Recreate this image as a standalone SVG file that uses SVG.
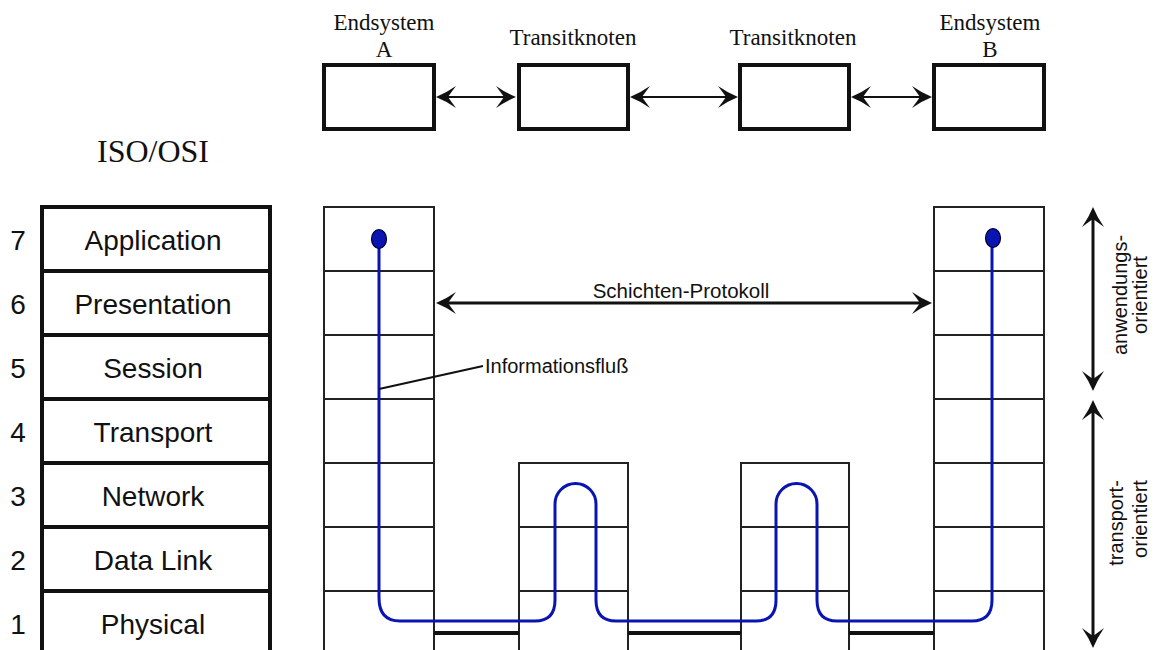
<svg xmlns="http://www.w3.org/2000/svg" width="1157" height="650" viewBox="0 0 1157 650">
<style>
.serif{font-family:"Liberation Serif","Times New Roman",serif;fill:#111}
.sans{font-family:"Liberation Sans",Arial,sans-serif;fill:#111}
.top{font-size:23px;text-anchor:middle}
.layer{font-size:28px;text-anchor:middle}
.num{font-size:28px;text-anchor:middle}
.tbl{fill:#fff;stroke:#111;stroke-width:4}
.tbline{stroke:#111;stroke-width:4}
.topbox{fill:#fff;stroke:#111;stroke-width:4}
.stack{fill:#fff;stroke:#222;stroke-width:2}
.sline{stroke:#222;stroke-width:2}
.conn{stroke:#111;stroke-width:2;fill:none}
.thick{stroke:#111;stroke-width:3;fill:none}
.base{stroke:#111;stroke-width:4}
.flow{stroke:#0a14b0;stroke-width:3;fill:none}
</style>
<defs>
<marker id="ah" markerUnits="userSpaceOnUse" orient="auto-start-reverse" refX="0" refY="0" markerWidth="30" markerHeight="30" overflow="visible">
<path d="M8,0 Q-2,-4 -12,-11 Q-6,-3 -4,0 Q-6,3 -12,11 Q-2,4 8,0 Z" fill="#111"/>
</marker>
</defs>

<g id="label-iso-osi">
<text class="serif" x="153" y="162" font-size="32" text-anchor="middle">ISO/OSI</text>
</g>

<g id="osi-table">
<rect class="tbl" x="42" y="207" width="228" height="460"/>
<line class="tbline" x1="42" y1="271" x2="270" y2="271"/>
<line class="tbline" x1="42" y1="335" x2="270" y2="335"/>
<line class="tbline" x1="42" y1="399" x2="270" y2="399"/>
<line class="tbline" x1="42" y1="463" x2="270" y2="463"/>
<line class="tbline" x1="42" y1="527" x2="270" y2="527"/>
<line class="tbline" x1="42" y1="591" x2="270" y2="591"/>
</g>
<g id="layer-7"><text class="sans num" x="18" y="250">7</text><text class="sans layer" x="153" y="250">Application</text></g>
<g id="layer-6"><text class="sans num" x="18" y="314">6</text><text class="sans layer" x="153" y="314">Presentation</text></g>
<g id="layer-5"><text class="sans num" x="18" y="378">5</text><text class="sans layer" x="153" y="378">Session</text></g>
<g id="layer-4"><text class="sans num" x="18" y="442">4</text><text class="sans layer" x="153" y="442">Transport</text></g>
<g id="layer-3"><text class="sans num" x="18" y="506">3</text><text class="sans layer" x="153" y="506">Network</text></g>
<g id="layer-2"><text class="sans num" x="18" y="570">2</text><text class="sans layer" x="153" y="570">Data Link</text></g>
<g id="layer-1"><text class="sans num" x="18" y="634">1</text><text class="sans layer" x="153" y="634">Physical</text></g>

<g id="node-endsystem-a">
<text class="serif top" x="384" y="30">Endsystem</text>
<text class="serif top" x="384" y="57">A</text>
<rect class="topbox" x="324" y="65" width="110" height="64"/>
</g>
<g id="node-transit-1">
<text class="serif top" x="573" y="45">Transitknoten</text>
<rect class="topbox" x="519" y="65" width="109" height="64"/>
</g>
<g id="node-transit-2">
<text class="serif top" x="793" y="45">Transitknoten</text>
<rect class="topbox" x="740" y="65" width="109" height="64"/>
</g>
<g id="node-endsystem-b">
<text class="serif top" x="990" y="30">Endsystem</text>
<text class="serif top" x="990" y="57">B</text>
<rect class="topbox" x="934" y="65" width="110" height="64"/>
</g>

<g id="stack-endsystem-a">
<rect class="stack" x="324" y="207" width="110" height="460"/>
<line class="sline" x1="324" y1="271" x2="434" y2="271"/>
<line class="sline" x1="324" y1="335" x2="434" y2="335"/>
<line class="sline" x1="324" y1="399" x2="434" y2="399"/>
<line class="sline" x1="324" y1="463" x2="434" y2="463"/>
<line class="sline" x1="324" y1="527" x2="434" y2="527"/>
<line class="sline" x1="324" y1="591" x2="434" y2="591"/>
</g>
<g id="stack-transit-1">
<rect class="stack" x="519" y="463" width="109" height="204"/>
<line class="sline" x1="519" y1="527" x2="628" y2="527"/>
<line class="sline" x1="519" y1="591" x2="628" y2="591"/>
</g>
<g id="stack-transit-2">
<rect class="stack" x="741" y="463" width="108" height="204"/>
<line class="sline" x1="741" y1="527" x2="849" y2="527"/>
<line class="sline" x1="741" y1="591" x2="849" y2="591"/>
</g>
<g id="stack-endsystem-b">
<rect class="stack" x="934" y="207" width="110" height="460"/>
<line class="sline" x1="934" y1="271" x2="1044" y2="271"/>
<line class="sline" x1="934" y1="335" x2="1044" y2="335"/>
<line class="sline" x1="934" y1="399" x2="1044" y2="399"/>
<line class="sline" x1="934" y1="463" x2="1044" y2="463"/>
<line class="sline" x1="934" y1="527" x2="1044" y2="527"/>
<line class="sline" x1="934" y1="591" x2="1044" y2="591"/>
</g>

<g id="connectors">
<line class="conn" x1="444" y1="97" x2="508" y2="97" marker-start="url(#ah)" marker-end="url(#ah)"/>
<line class="conn" x1="638" y1="97" x2="730" y2="97" marker-start="url(#ah)" marker-end="url(#ah)"/>
<line class="conn" x1="859" y1="97" x2="924" y2="97" marker-start="url(#ah)" marker-end="url(#ah)"/>
<line class="thick" x1="444" y1="303" x2="924" y2="303" marker-start="url(#ah)" marker-end="url(#ah)"/>
<line class="thick" x1="1093" y1="215" x2="1093" y2="383" marker-start="url(#ah)" marker-end="url(#ah)"/>
<line class="thick" x1="1093" y1="408" x2="1093" y2="640" marker-start="url(#ah)" marker-end="url(#ah)"/>
<line class="base" x1="434" y1="633" x2="519" y2="633"/>
<line class="base" x1="628" y1="633" x2="741" y2="633"/>
<line class="base" x1="849" y1="633" x2="934" y2="633"/>
<path class="flow" d="M379,245 V598 Q379,621 400,621 H535 Q555,621 555,600 V504 A20.5,20.5 0 0 1 596,504 V600 Q596,621 616,621 H756 Q776,621 776,600 V504 A20.5,20.5 0 0 1 817,504 V600 Q817,621 837,621 H972 Q992,621 992,600 V245"/>
<ellipse cx="379" cy="239" rx="7.5" ry="9.5" fill="#0a14b0" stroke="#000030" stroke-width="1.2"/>
<ellipse cx="993" cy="238" rx="7.5" ry="9.5" fill="#0a14b0" stroke="#000030" stroke-width="1.2"/>
<line x1="379" y1="389" x2="483" y2="366" stroke="#111" stroke-width="2"/>
</g>

<g id="label-schichten">
<text class="sans" x="681" y="298" font-size="20.5" text-anchor="middle">Schichten-Protokoll</text>
</g>
<g id="label-informationsfluss">
<text class="sans" x="485" y="373" font-size="20">Informationsfluß</text>
</g>
<g id="label-anwendungs">
<text class="sans" font-size="20" text-anchor="middle" transform="translate(1127,295) rotate(-90)">anwendungs-</text>
<text class="sans" font-size="20" text-anchor="middle" transform="translate(1147,295) rotate(-90)">orientiert</text>
</g>
<g id="label-transport">
<text class="sans" font-size="20" text-anchor="middle" transform="translate(1123,523) rotate(-90)">transport-</text>
<text class="sans" font-size="20" text-anchor="middle" transform="translate(1147,519) rotate(-90)">orientiert</text>
</g>
</svg>
